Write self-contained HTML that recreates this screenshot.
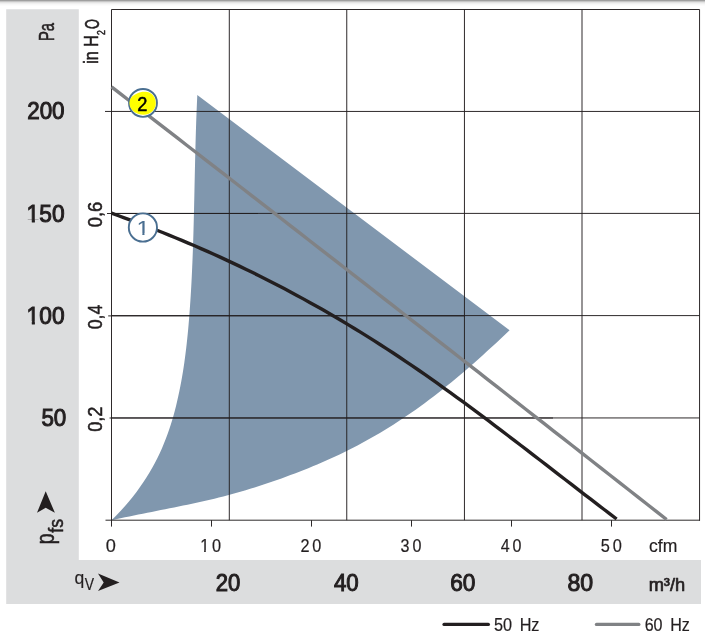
<!DOCTYPE html>
<html><head><meta charset="utf-8">
<style>html,body{margin:0;padding:0;background:#fff}svg{display:block}</style></head>
<body>
<svg width="705" height="638" viewBox="0 0 705 638" font-family="'Liberation Sans', Arial, Helvetica, sans-serif">
<defs><clipPath id="c1"><path d="M-5 -40H200V20H10.84V-1.976H6.69V20H4.84V-1.976H-5Z"/></clipPath><clipPath id="c2"><path d="M-5 -40H200V20H13.90V-2.567H9.05V20H5.74V-2.567H-5Z"/></clipPath><clipPath id="c3"><path d="M-5 -40H200V20H13.90V-3.358H9.05V20H5.74V-3.358H-5Z"/></clipPath><clipPath id="c4"><path d="M-5 -40H200V20H11.61V-1.998H6.23V20H4.42V-1.998H-5Z"/></clipPath></defs>
<rect x="0" y="0" width="705" height="638" fill="#fff"/>
<rect x="0" y="0" width="705" height="1" fill="#9f9f9f" shape-rendering="crispEdges"/>
<rect x="0" y="1" width="705" height="1" fill="#c6c6c6" shape-rendering="crispEdges"/>
<rect x="0" y="2" width="705" height="1" fill="#e3e3e3" shape-rendering="crispEdges"/>
<rect x="0" y="3" width="705" height="1" fill="#f0f0f0" shape-rendering="crispEdges"/>
<rect x="0" y="4" width="705" height="1" fill="#f8f8f8" shape-rendering="crispEdges"/>
<rect x="0" y="5" width="705" height="1" fill="#fcfcfc" shape-rendering="crispEdges"/>
<path d="M6.2 9.2H78.8V560H701V604H6.2Z" fill="#dcddde"/>
<path d="M111.50 520.30 L116.25 515.52 L120.77 510.74 L125.07 505.97 L129.15 501.19 L133.02 496.41 L136.69 491.63 L140.17 486.86 L143.46 482.08 L146.56 477.30 L149.50 472.52 L152.26 467.75 L154.86 462.97 L157.31 458.19 L159.62 453.41 L161.78 448.64 L163.81 443.86 L165.71 439.08 L167.50 434.30 L169.17 429.53 L170.74 424.75 L172.21 419.97 L173.59 415.19 L174.88 410.42 L176.09 405.64 L177.24 400.86 L178.31 396.08 L179.33 391.31 L180.29 386.53 L181.20 381.75 L182.05 376.97 L182.85 372.20 L183.60 367.42 L184.31 362.64 L184.97 357.86 L185.59 353.09 L186.18 348.31 L186.72 343.53 L187.23 338.75 L187.72 333.98 L188.17 329.20 L188.59 324.42 L188.99 319.64 L189.37 314.87 L189.73 310.09 L190.07 305.31 L190.40 300.53 L190.70 295.76 L190.99 290.98 L191.26 286.20 L191.52 281.42 L191.76 276.65 L191.99 271.87 L192.20 267.09 L192.41 262.31 L192.60 257.54 L192.78 252.76 L192.95 247.98 L193.11 243.20 L193.26 238.43 L193.40 233.65 L193.54 228.87 L193.67 224.09 L193.79 219.32 L193.91 214.54 L194.02 209.76 L194.13 204.98 L194.24 200.21 L194.35 195.43 L194.45 190.65 L194.55 185.87 L194.65 181.10 L194.76 176.32 L194.86 171.54 L194.97 166.76 L195.08 161.99 L195.19 157.21 L195.31 152.43 L195.43 147.65 L195.56 142.88 L195.69 138.10 L195.83 133.32 L195.98 128.54 L196.14 123.77 L196.30 118.99 L196.48 114.21 L196.67 109.43 L196.87 104.66 L197.08 99.88 L197.30 95.10 L509.60 330.30 L505.13 334.54 L500.65 338.74 L496.18 342.91 L491.71 347.04 L487.23 351.12 L482.76 355.17 L478.29 359.18 L473.82 363.14 L469.34 367.05 L464.87 370.92 L460.40 374.73 L455.92 378.49 L451.45 382.20 L446.98 385.85 L442.50 389.44 L438.03 392.97 L433.56 396.44 L429.09 399.84 L424.61 403.18 L420.14 406.45 L415.67 409.65 L411.19 412.79 L406.72 415.86 L402.25 418.86 L397.77 421.80 L393.30 424.67 L388.83 427.48 L384.36 430.22 L379.88 432.91 L375.41 435.53 L370.94 438.09 L366.46 440.59 L361.99 443.03 L357.52 445.42 L353.04 447.74 L348.57 450.01 L344.10 452.23 L339.62 454.38 L335.15 456.49 L330.68 458.54 L326.21 460.55 L321.73 462.51 L317.26 464.43 L312.79 466.30 L308.31 468.13 L303.84 469.93 L299.37 471.69 L294.89 473.41 L290.42 475.11 L285.95 476.77 L281.48 478.40 L277.00 479.99 L272.53 481.55 L268.06 483.08 L263.58 484.58 L259.11 486.04 L254.64 487.46 L250.16 488.85 L245.69 490.20 L241.22 491.52 L236.74 492.80 L232.27 494.04 L227.80 495.24 L223.33 496.41 L218.85 497.54 L214.38 498.63 L209.91 499.70 L205.43 500.74 L200.96 501.76 L196.49 502.75 L192.01 503.72 L187.54 504.67 L183.07 505.60 L178.60 506.52 L174.12 507.43 L169.65 508.33 L165.18 509.23 L160.70 510.12 L156.23 511.00 L151.76 511.89 L147.28 512.78 L142.81 513.68 L138.34 514.58 L133.87 515.50 L129.39 516.42 L124.92 517.37 L120.45 518.32 L115.97 519.30 L111.50 520.30Z" fill="#8097ae"/>
<line x1="229.3" y1="9.5" x2="229.3" y2="520.2" stroke="#231f20" stroke-width="0.95"/>
<line x1="346.75" y1="9.5" x2="346.75" y2="520.2" stroke="#231f20" stroke-width="0.95"/>
<line x1="464.45" y1="9.5" x2="464.45" y2="520.2" stroke="#231f20" stroke-width="0.95"/>
<line x1="582.0" y1="9.5" x2="582.0" y2="520.2" stroke="#231f20" stroke-width="0.95"/>
<line x1="105" y1="111.45" x2="699.55" y2="111.45" stroke="#231f20" stroke-width="0.95"/>
<line x1="111.5" y1="213.4" x2="699.55" y2="213.4" stroke="#231f20" stroke-width="0.95"/>
<line x1="111.5" y1="315.6" x2="699.55" y2="315.6" stroke="#231f20" stroke-width="0.95"/>
<line x1="111.5" y1="417.95" x2="699.55" y2="417.95" stroke="#231f20" stroke-width="0.95"/>
<line x1="107" y1="213.5" x2="258" y2="213.5" stroke="#231f20" stroke-width="0.95"/>
<line x1="108.2" y1="315.9" x2="465" y2="315.9" stroke="#231f20" stroke-width="0.95"/>
<line x1="109.5" y1="418.0" x2="553" y2="418.0" stroke="#231f20" stroke-width="0.95"/>
<path d="M111.5 520.7V9.5H699.55V520.7" fill="none" stroke="#231f20" stroke-width="0.95" stroke-linejoin="miter"/>
<line x1="105.5" y1="520.2" x2="700.0" y2="520.2" stroke="#231f20" stroke-width="0.95"/>
<line x1="111.5" y1="520.2" x2="111.5" y2="526.6" stroke="#231f20" stroke-width="0.95"/>
<line x1="211.5" y1="520.2" x2="211.5" y2="526.6" stroke="#231f20" stroke-width="0.95"/>
<line x1="311.5" y1="520.2" x2="311.5" y2="526.6" stroke="#231f20" stroke-width="0.95"/>
<line x1="411.5" y1="520.2" x2="411.5" y2="526.6" stroke="#231f20" stroke-width="0.95"/>
<line x1="511.5" y1="520.2" x2="511.5" y2="526.6" stroke="#231f20" stroke-width="0.95"/>
<line x1="611.5" y1="520.2" x2="611.5" y2="526.6" stroke="#231f20" stroke-width="0.95"/>
<path d="M111.50 86.90 L120.91 94.18 L130.32 101.47 L139.73 108.76 L149.13 116.05 L158.54 123.34 L167.95 130.63 L177.36 137.92 L186.77 145.22 L196.18 152.52 L205.58 159.82 L214.99 167.12 L224.40 174.42 L233.81 181.73 L243.22 189.03 L252.63 196.34 L262.04 203.65 L271.44 210.96 L280.85 218.27 L290.26 225.59 L299.67 232.90 L309.08 240.22 L318.49 247.54 L327.89 254.86 L337.30 262.18 L346.71 269.50 L356.12 276.83 L365.53 284.16 L374.94 291.49 L384.35 298.82 L393.75 306.15 L403.16 313.48 L412.57 320.82 L421.98 328.16 L431.39 335.49 L440.80 342.83 L450.21 350.18 L459.61 357.52 L469.02 364.87 L478.43 372.21 L487.84 379.56 L497.25 386.91 L506.66 394.26 L516.06 401.62 L525.47 408.97 L534.88 416.33 L544.29 423.69 L553.70 431.05 L563.11 438.41 L572.52 445.77 L581.92 453.14 L591.33 460.51 L600.74 467.87 L610.15 475.24 L619.56 482.62 L628.97 489.99 L638.37 497.36 L647.78 504.74 L657.19 512.12 L666.60 519.50" fill="none" stroke="#808285" stroke-width="3.4"/>
<path d="M111.50 213.20 L117.89 215.49 L124.29 217.81 L130.68 220.17 L137.07 222.57 L143.47 225.00 L149.86 227.47 L156.26 229.97 L162.65 232.51 L169.04 235.10 L175.44 237.72 L181.83 240.38 L188.22 243.07 L194.62 245.81 L201.01 248.59 L207.41 251.41 L213.80 254.27 L220.19 257.17 L226.59 260.12 L232.98 263.11 L239.37 266.13 L245.77 269.21 L252.16 272.32 L258.55 275.48 L264.95 278.69 L271.34 281.94 L277.74 285.23 L284.13 288.57 L290.52 291.96 L296.92 295.39 L303.31 298.88 L309.70 302.40 L316.10 305.98 L322.49 309.60 L328.88 313.28 L335.28 317.00 L341.67 320.77 L348.07 324.59 L354.46 328.46 L360.85 332.38 L367.25 336.36 L373.64 340.38 L380.03 344.46 L386.43 348.59 L392.82 352.77 L399.22 357.00 L405.61 361.29 L412.00 365.63 L418.40 370.02 L424.79 374.46 L431.18 378.94 L437.58 383.47 L443.97 388.04 L450.36 392.64 L456.76 397.29 L463.15 401.96 L469.55 406.67 L475.94 411.42 L482.33 416.18 L488.73 420.98 L495.12 425.80 L501.51 430.64 L507.91 435.50 L514.30 440.37 L520.69 445.26 L527.09 450.17 L533.48 455.09 L539.88 460.01 L546.27 464.94 L552.66 469.88 L559.06 474.81 L565.45 479.75 L571.84 484.69 L578.24 489.62 L584.63 494.55 L591.03 499.46 L597.42 504.37 L603.81 509.26 L610.21 514.14 L616.60 519.00" fill="none" stroke="#231f20" stroke-width="3.4"/>
<circle cx="143.0" cy="102.9" r="13.95" fill="#fff" stroke="#4a6f91" stroke-width="1.9"/>
<path d="M129.4 103 C129.4 99.6 131.2 96.6 134.6 94.8 L137 93.4 C140 91.7 144 91.3 147.5 92 C152.5 93.2 155.8 97.5 155.8 103 C155.8 109 151.5 114.7 143.5 114.7 C135.5 114.7 129.4 109.5 129.4 103Z" fill="#ffff00"/>
<circle cx="142.9" cy="227.5" r="14.1" fill="#fff" stroke="#4a6f91" stroke-width="1.9"/>
<text transform="matrix(0.9343 0 0 0.9915 137.13 110.75)" font-size="19.5" font-weight="normal" fill="#000" stroke="#000" stroke-width="0.5" vector-effect="non-scaling-stroke" stroke-linejoin="round">2</text>
<text transform="matrix(1.1681 0 0 1.0249 136.68 235.03)" clip-path="url(#c1)" font-size="19.5" font-weight="normal" fill="#4a6f91" stroke="#4a6f91" stroke-width="0.15" vector-effect="non-scaling-stroke" stroke-linejoin="round">1</text>
<text transform="matrix(0.8967 0 0 0.9548 27.17 119.47)" font-size="25" font-weight="normal" fill="#231f20" stroke="#231f20" stroke-width="1.0" vector-effect="non-scaling-stroke" stroke-linejoin="miter">200</text>
<text transform="matrix(0.9105 0 0 0.9604 26.61 222.47)" clip-path="url(#c2)" font-size="25" font-weight="normal" fill="#231f20" stroke="#231f20" stroke-width="1.0" vector-effect="non-scaling-stroke" stroke-linejoin="miter">150</text>
<text transform="matrix(0.9105 0 0 0.9717 26.61 324.26)" clip-path="url(#c3)" font-size="25" font-weight="normal" fill="#231f20" stroke="#231f20" stroke-width="1.0" vector-effect="non-scaling-stroke" stroke-linejoin="miter">100</text>
<text transform="matrix(0.8943 0 0 0.9717 41.40 425.56)" font-size="25" font-weight="normal" fill="#231f20" stroke="#231f20" stroke-width="1.0" vector-effect="non-scaling-stroke" stroke-linejoin="miter">50</text>
<text transform="matrix(0.8837 0 0 0.9378 215.79 590.87)" font-size="25" font-weight="normal" fill="#231f20" stroke="#231f20" stroke-width="1.0" vector-effect="non-scaling-stroke" stroke-linejoin="miter">20</text>
<text transform="matrix(0.8912 0 0 0.9378 333.89 590.87)" font-size="25" font-weight="normal" fill="#231f20" stroke="#231f20" stroke-width="1.0" vector-effect="non-scaling-stroke" stroke-linejoin="miter">40</text>
<text transform="matrix(0.9076 0 0 0.9378 450.15 590.87)" font-size="25" font-weight="normal" fill="#231f20" stroke="#231f20" stroke-width="1.0" vector-effect="non-scaling-stroke" stroke-linejoin="miter">60</text>
<text transform="matrix(0.9245 0 0 0.9378 567.50 590.87)" font-size="25" font-weight="normal" fill="#231f20" stroke="#231f20" stroke-width="1.0" vector-effect="non-scaling-stroke" stroke-linejoin="miter">80</text>
<text transform="matrix(1.0138 0 0 1.0364 648.64 590.77)" font-size="18" font-weight="normal" fill="#231f20" stroke="#231f20" stroke-width="0.7" vector-effect="non-scaling-stroke" stroke-linejoin="round">m³/h</text>
<text transform="matrix(1.0111 0 0 1.0122 105.69 552.02)" font-size="18" font-weight="normal" fill="#231f20" stroke="#231f20" stroke-width="0.2" vector-effect="non-scaling-stroke" stroke-linejoin="round">0</text>
<text transform="matrix(0.9044 0 0 1.0122 200.13 552.02)" clip-path="url(#c4)" font-size="18" font-weight="normal" fill="#231f20" letter-spacing="3.2" stroke="#231f20" stroke-width="0.2" vector-effect="non-scaling-stroke" stroke-linejoin="round">10</text>
<text transform="matrix(0.9022 0 0 1.0122 300.38 552.02)" font-size="18" font-weight="normal" fill="#231f20" letter-spacing="3.2" stroke="#231f20" stroke-width="0.2" vector-effect="non-scaling-stroke" stroke-linejoin="round">20</text>
<text transform="matrix(0.8932 0 0 1.0122 400.59 552.02)" font-size="18" font-weight="normal" fill="#231f20" letter-spacing="3.2" stroke="#231f20" stroke-width="0.2" vector-effect="non-scaling-stroke" stroke-linejoin="round">30</text>
<text transform="matrix(0.8912 0 0 1.0122 500.73 552.02)" font-size="18" font-weight="normal" fill="#231f20" letter-spacing="3.2" stroke="#231f20" stroke-width="0.2" vector-effect="non-scaling-stroke" stroke-linejoin="round">40</text>
<text transform="matrix(0.9084 0 0 1.0122 600.75 552.02)" font-size="18" font-weight="normal" fill="#231f20" letter-spacing="3.2" stroke="#231f20" stroke-width="0.2" vector-effect="non-scaling-stroke" stroke-linejoin="round">50</text>
<text transform="matrix(0.9762 0 0 1.0151 649.05 552.02)" font-size="18" font-weight="normal" fill="#231f20" stroke="#231f20" stroke-width="0.2" vector-effect="non-scaling-stroke" stroke-linejoin="round">cfm</text>
<text transform="matrix(0 -0.8277 1.2023 0 53.94 41.07)" font-size="18" font-weight="normal" fill="#231f20" stroke="#231f20" stroke-width="0.5" vector-effect="non-scaling-stroke" stroke-linejoin="round">Pa</text>
<text transform="matrix(0 -0.8965 1.0887 0 98.45 63.83)" font-size="18" font-weight="normal" fill="#231f20" stroke="#231f20" stroke-width="0.5" vector-effect="non-scaling-stroke" stroke-linejoin="round">in H<tspan font-size="9.73" dx="0.27" dy="6.15">2</tspan></text><text transform="matrix(0 -0.7081 1.1613 0 98.65 29.05)" font-size="18" font-weight="normal" fill="#231f20" stroke="#231f20" stroke-width="0.5" vector-effect="non-scaling-stroke" stroke-linejoin="round">O</text>
<text transform="matrix(0 -1.0200 1.1499 0 102.20 227.27)" font-size="18" font-weight="normal" fill="#231f20" stroke="#231f20" stroke-width="0.5" vector-effect="non-scaling-stroke" stroke-linejoin="round">0,6</text>
<text transform="matrix(0 -0.9835 1.1499 0 102.20 329.24)" font-size="18" font-weight="normal" fill="#231f20" stroke="#231f20" stroke-width="0.5" vector-effect="non-scaling-stroke" stroke-linejoin="round">0,4</text>
<text transform="matrix(0 -1.0122 1.1499 0 102.20 431.86)" font-size="18" font-weight="normal" fill="#231f20" stroke="#231f20" stroke-width="0.5" vector-effect="non-scaling-stroke" stroke-linejoin="round">0,2</text>
<text transform="matrix(0 -0.8508 1.1028 0 54.39 544.21)" font-size="23" font-weight="normal" fill="#231f20" stroke="#231f20" stroke-width="0.5" vector-effect="non-scaling-stroke" stroke-linejoin="round">p</text><text transform="matrix(0 -0.9851 1.0984 0 62.76 532.70)" font-size="18" font-weight="normal" fill="#231f20" stroke="#231f20" stroke-width="0.5" vector-effect="non-scaling-stroke" stroke-linejoin="round">fs</text>
<text transform="matrix(0.9236 0 0 0.9741 74.56 584.46)" font-size="19" font-weight="normal" fill="#231f20" stroke="#231f20" stroke-width="0.2" vector-effect="non-scaling-stroke" stroke-linejoin="round">q</text><text transform="matrix(0.8471 0 0 1.0307 84.64 590.40)" font-size="16.5" font-weight="normal" fill="#231f20" stroke="#231f20" stroke-width="0.2" vector-effect="non-scaling-stroke" stroke-linejoin="round">V</text>
<path d="M45.7 491.2 L54.9 512.8 L45.7 507.8 L37.0 512.8Z" fill="#231f20"/>
<path d="M119.5 582.4 L98.0 573.5 L103.7 582.4 L98.0 591.0Z" fill="#231f20"/>
<line x1="444.1" y1="624.4" x2="488.3" y2="624.4" stroke="#231f20" stroke-width="3.4" stroke-linecap="round"/>
<line x1="596.5" y1="624.4" x2="638.8" y2="624.4" stroke="#808285" stroke-width="3.4" stroke-linecap="round"/>
<text transform="matrix(0.9018 0 0 1.0201 493.95 631.12)" word-spacing="3.5" font-size="18" font-weight="normal" fill="#231f20" stroke="#231f20" stroke-width="0.2" vector-effect="non-scaling-stroke" stroke-linejoin="round">50 Hz</text>
<text transform="matrix(0.8930 0 0 1.0201 644.68 631.12)" word-spacing="3.5" font-size="18" font-weight="normal" fill="#231f20" stroke="#231f20" stroke-width="0.2" vector-effect="non-scaling-stroke" stroke-linejoin="round">60 Hz</text>
</svg>
</body></html>
